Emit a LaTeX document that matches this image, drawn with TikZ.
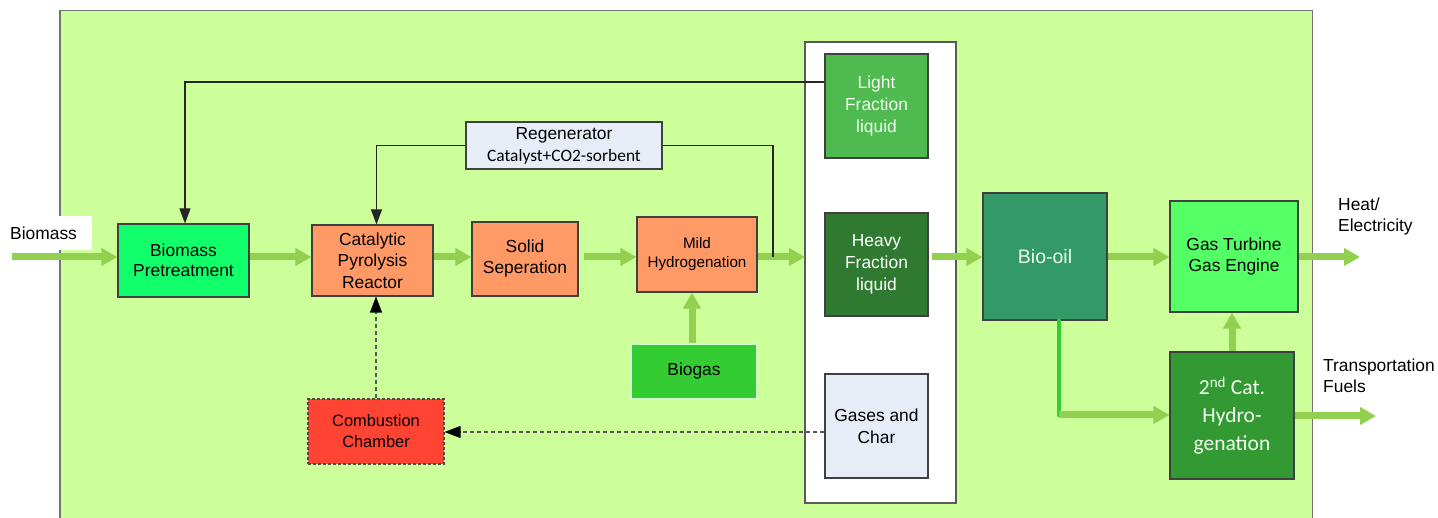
\documentclass[tikz,border=0pt]{standalone}
\usepackage{fontspec}
\setmainfont{Liberation Sans}
\newfontfamily\calfont{Carlito}
\usetikzlibrary{arrows.meta}
\definecolor{bgg}{HTML}{CCFF99}
\definecolor{bord}{HTML}{404040}
\definecolor{flowg}{HTML}{92D050}
\definecolor{pregreen}{HTML}{11FF6A}
\definecolor{orng}{HTML}{FF9966}
\definecolor{paleblue}{HTML}{E6EDF7}
\definecolor{lightfr}{HTML}{4FBA50}
\definecolor{heavyfr}{HTML}{2F7A30}
\definecolor{biooil}{HTML}{339966}
\definecolor{gasturb}{HTML}{55FF66}
\definecolor{cattwo}{HTML}{339933}
\definecolor{biogasc}{HTML}{33CC33}
\definecolor{combc}{HTML}{FF4433}
\begin{document}
\begin{tikzpicture}[x=1pt,y=-1pt,
  box/.style={draw=bord, line width=1.1pt, align=center, inner sep=0pt,
    font=\fontsize{17.4pt}{21pt}\selectfont, text=black},
  flow/.style={draw=flowg, line width=7pt, -{Triangle[length=16pt,width=17pt]}},
  fb/.style={draw=black!85, line width=1.1pt, -{Triangle[length=15pt,width=11pt]}},
  fbline/.style={draw=black!85, line width=1.1pt},
  dsh/.style={draw=black!65, line width=1.1pt, dash pattern=on 4pt off 3pt, -{Triangle[length=16pt,width=12pt,color=black]}},
  lbl/.style={inner sep=0pt, font=\fontsize{17.4pt}{21pt}\selectfont, align=left}
]
\clip (0,0) rectangle (1438,518);
\fill[white] (0,0) rectangle (1438,518);
% background panel
\draw[fill=bgg, draw=black!55, line width=1.5pt] (60,10.5) rectangle (1312.5,540);
% white column
\draw[fill=white, draw=black!65, line width=1.1pt] (805,42) rectangle (956,503);

% labels on the border
\node[lbl, fill=white, anchor=west, minimum height=34pt, text width=72pt, inner xsep=10pt] (biomasslbl) at (0,233) {Biomass};
\node[lbl, anchor=west] (heatlbl) at (1338,216.5) {Heat/\\Electricity};
\node[lbl, fill=white, anchor=north west, minimum height=65pt, text width=115pt, inner xsep=10pt] (translbl) at (1313,343) {Transportation\\Fuels};

% process boxes
\node[box, fill=pregreen, minimum width=131pt, minimum height=73pt, font=\fontsize{17.4pt}{20pt}\selectfont] (pre) at (183.5,260.5) {Biomass\\Pretreatment};
\node[box, fill=orng, minimum width=121pt, minimum height=71pt, font=\fontsize{17.4pt}{21.5pt}\selectfont] (cat) at (372.5,260.5) {Catalytic\\Pyrolysis\\Reactor};
\node[box, fill=orng, minimum width=106pt, minimum height=74pt] (sol) at (525,259) {Solid\\Seperation};
\node[box, fill=orng, minimum width=120pt, minimum height=75pt, font=\fontsize{15.2pt}{19pt}\selectfont] (mild) at (697,254.5) {Mild\\Hydrogenation};
\node[box, fill=paleblue, minimum width=196pt, minimum height=47pt, font=\fontsize{17.4pt}{22pt}\selectfont] (regen) at (564,145.5) {Regenerator\\{\calfont Catalyst+CO2-sorbent}};
\node[box, fill=lightfr, text=white!95!green, minimum width=103pt, minimum height=104pt, font=\fontsize{17.4pt}{21.7pt}\selectfont] (light) at (876.5,106) {Light\\Fraction\\liquid};
\node[box, fill=heavyfr, text=white, minimum width=103pt, minimum height=103pt, font=\fontsize{17.4pt}{21.7pt}\selectfont] (heavy) at (876.5,264.5) {Heavy\\Fraction\\liquid};
\node[box, fill=paleblue, minimum width=103pt, minimum height=104pt, font=\fontsize{17.4pt}{22pt}\selectfont] (gases) at (876.5,426) {Gases and\\Char};
\node[box, fill=biooil, text=white!92!green, minimum width=124pt, minimum height=127pt, font=\fontsize{19.5pt}{23pt}\selectfont] (bio) at (1045,256.5) {Bio-oil};
\node[box, fill=gasturb, minimum width=128pt, minimum height=111pt] (gt) at (1234,256.5) {Gas Turbine\\Gas Engine};
\node[box, fill=cattwo, text=white!95!green, minimum width=124pt, minimum height=127pt, font=\calfont\fontsize{21.5pt}{28pt}\selectfont] (cat2) at (1232,415.5) {2\textsuperscript{nd} Cat.\\Hydro-\\genation};
\node[box, draw=white!80!green, fill=biogasc, minimum width=126pt, minimum height=55pt] (biogas) at (694,371.5) {Biogas};
\node[box, fill=combc, dash pattern=on 3pt off 2pt, draw=black!70, minimum width=136pt, minimum height=65pt, font=\fontsize{16.4pt}{21pt}\selectfont] (comb) at (376,431.5) {Combustion\\Chamber};

% coordinates
\coordinate (ml) at (0,257);
\coordinate (bin) at (12,257);
\coordinate (heatout) at (1360,257);
\coordinate (fuelout) at (1376,416);
\coordinate (regjoin) at (773,257);
\coordinate (biodown) at (1059,415);

% main flow arrows
\draw[flow] (bin) -- (pre.west |- ml);
\draw[flow] (pre.east |- ml) -- (cat.west |- ml);
\draw[flow] (cat.east |- ml) -- (sol.west |- ml);
\draw[flow] ([xshift=5pt]sol.east |- ml) -- (mild.west |- ml);
\draw[flow] (mild.east |- ml) -- (805,257);
\draw[flow] ([xshift=3pt]heavy.east |- ml) -- (bio.west |- ml);
\draw[flow] (bio.east |- ml) -- (gt.west |- ml);
\draw[flow] (gt.east |- ml) -- (heatout);
\draw[draw=biogasc, line width=4.5pt, line cap=round] (bio.south -| biodown) -- (biodown);
\draw[flow] (biodown) -- (cat2.west |- biodown);
\draw[flow] (cat2.north) -- (gt.south -| cat2.north);
\draw[flow] (cat2.east |- fuelout) -- (fuelout);
\draw[flow] (biogas.north -| 692,0) -- (mild.south -| 692,0);

% feedback lines
\draw[fb] (light.west |- 0,82) -| ([xshift=1.5pt]pre.north);
\draw[fb] (regen.west) -| ([xshift=4pt]cat.north);
\draw[fbline] (regen.east) -| (regjoin);
\draw[dsh] (comb.north) -- (comb.north |- cat.south);
\draw[dsh] (gases.west |- 0,432) -- (comb.east |- 0,432);
\end{tikzpicture}
\end{document}
